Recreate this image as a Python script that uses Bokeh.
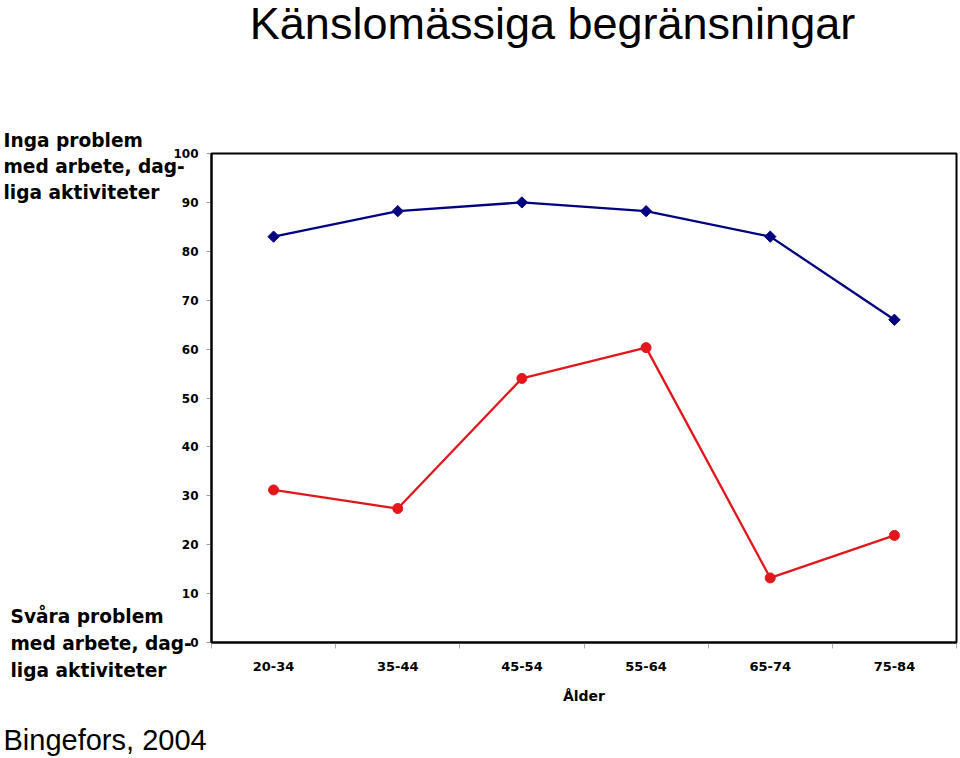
from bokeh.plotting import figure
from bokeh.models import Label, FixedTicker, ColumnDataSource, LinearAxis, BoxAnnotation
from bokeh.embed import file_html
from bokeh.resources import INLINE
import numpy as np

categories = ["20-34", "35-44", "45-54", "55-64", "65-74", "75-84"]
inga_problem = [83.0, 88.2, 90.0, 88.2, 83.0, 66.0]
svara_problem = [31.2, 27.4, 54.0, 60.3, 13.2, 21.9]
y_ticks = [0, 10, 20, 30, 40, 50, 60, 70, 80, 90, 100]
y_max = 100

FONT = "Liberation Sans"
BFONT = "DejaVu Sans"
BLUE = "#000080"
RED = "#e3161b"

# canvas and plot-box placement (pixels)
W, H = 958, 756
FL, FR, FT, FB = 211, 956, 153, 642
n = len(categories)
xs = (FR - FL) / n
ys = (FB - FT) / y_max

xpos = np.arange(n) + 0.5
src = ColumnDataSource(dict(x=xpos, inga=inga_problem, svara=svara_problem))

p = figure(width=W, height=H, output_backend="svg", toolbar_location=None,
           x_range=(-FL / xs, n + (W - FR) / xs),
           y_range=(-(H - FB) / ys, y_max + FT / ys),
           x_axis_location=None, y_axis_location=None, min_border=0)
p.title.visible = False
p.grid.visible = False
p.outline_line_color = None

# plot box (top/right borders)
p.add_layout(BoxAnnotation(left=0, right=n, bottom=0, top=y_max, fill_alpha=0,
                           line_color="black", line_alpha=1.0, line_width=2))

# x axis
xa = LinearAxis(fixed_location=0, bounds=(0, n))
xa.ticker = FixedTicker(ticks=list(xpos), minor_ticks=list(range(n + 1)))
xa.major_label_overrides = {float(x): c for x, c in zip(xpos, categories)}
xa.major_tick_line_color = None
xa.major_tick_in = 0
xa.major_tick_out = 6
xa.minor_tick_line_color = "#aaaaaa"
xa.minor_tick_in = 0
xa.minor_tick_out = 6
xa.axis_line_width = 2
xa.axis_line_color = "black"
xa.major_label_text_font = BFONT
xa.major_label_text_font_style = "bold"
xa.major_label_text_font_size = "13px"
xa.major_label_text_color = "black"
xa.major_label_standoff = 13
xa.axis_label = "Ålder"
xa.axis_label_text_font = BFONT
xa.axis_label_text_font_style = "bold"
xa.axis_label_text_font_size = "14px"
xa.axis_label_text_color = "black"
xa.axis_label_standoff = 14
p.add_layout(xa, "below")

# y axis
ya = LinearAxis(fixed_location=0, bounds=(0, y_max))
ya.ticker = FixedTicker(ticks=y_ticks, minor_ticks=[])
ya.axis_line_width = 2
ya.axis_line_color = "black"
ya.major_tick_line_color = "#999999"
ya.major_tick_in = 0
ya.major_tick_out = 5
ya.major_label_text_font = BFONT
ya.major_label_text_font_style = "bold"
ya.major_label_text_font_size = "12px"
ya.major_label_text_color = "black"
ya.major_label_standoff = 8
p.add_layout(ya, "left")

p.line("x", "inga", source=src, line_color=BLUE, line_width=2.3)
p.scatter("x", "inga", source=src, marker="square", angle=np.pi / 4, size=8,
          fill_color=BLUE, line_color=BLUE)
p.line("x", "svara", source=src, line_color=RED, line_width=2.3)
p.scatter("x", "svara", source=src, marker="circle", size=10, fill_color=RED, line_color=RED)

def add_text(txt, page_x, baseline_y, size, font, bold=True, align="left"):
    # empirical correction: rendered baseline sits ~0.4em below the anchor
    adj = baseline_y - 0.4 * size
    p.add_layout(Label(x=page_x, y=H - adj, x_units="screen", y_units="screen",
                       text=txt, text_font=font, text_font_size=f"{size}px",
                       text_font_style="bold" if bold else "normal",
                       text_baseline="alphabetic", text_align=align, text_color="black"))

add_text("Känslomässiga begränsningar", 552, 40.5, 45, FONT, bold=False, align="center")
add_text("Inga problem", 3, 147, 18.6, BFONT)
add_text("med arbete, dag-", 3, 173, 18.6, BFONT)
add_text("liga aktiviteter", 3, 199, 18.6, BFONT)
add_text("Svåra problem", 10, 623, 18.6, BFONT)
add_text("med arbete, dag-", 10, 650, 18.6, BFONT)
add_text("liga aktiviteter", 10, 677, 18.6, BFONT)
add_text("Bingefors, 2004", 3, 751, 29, FONT, bold=False)

open("out.html", "w").write(file_html(p, INLINE))
